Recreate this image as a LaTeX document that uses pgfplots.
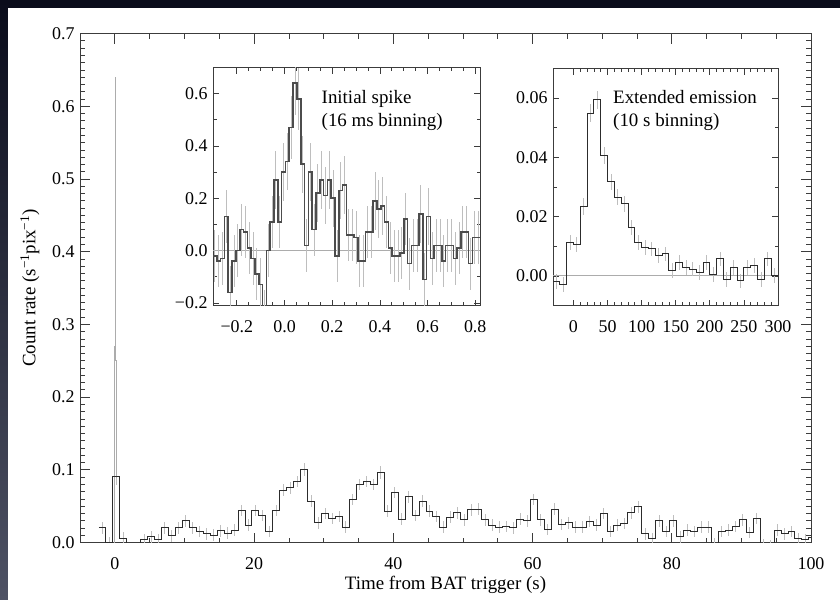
\documentclass[border=0pt]{standalone}
\usepackage{fontspec}
\setmainfont{Liberation Serif}
\usepackage{pgfplots}
\usepackage{pgfplotstable}
\pgfplotsset{compat=1.18}

\definecolor{bgnavy}{HTML}{0A0C1B}
\definecolor{bgside}{HTML}{4E5264}
\definecolor{framec}{HTML}{3C3C3C}
\definecolor{trace}{HTML}{2C2C2C}
\definecolor{errgray}{HTML}{BEBEBE}
\newcommand\ticksize{\fontsize{18}{18}\selectfont}
\newcommand\labsize{\fontsize{19}{19}\selectfont}

% BAT light curve, 1 s bins (left edge, rate, error)
\pgfplotstableread{
x y e
-2.3 0.020 0.008
-1.3 0.000 0.008
-0.3 0.091 0.012
0.7 0.006 0.008
1.7 -0.010 0.008
2.7 -0.010 0.008
3.7 0.004 0.008
4.7 0.008 0.008
5.7 0.004 0.008
6.7 0.020 0.008
7.7 0.009 0.008
8.7 0.020 0.008
9.7 0.030 0.008
10.7 0.020 0.008
11.7 0.015 0.008
12.7 0.012 0.008
13.7 0.010 0.008
14.7 0.016 0.008
15.7 0.013 0.008
16.7 0.017 0.008
17.7 0.044 0.008
18.7 0.024 0.008
19.7 0.044 0.008
20.7 0.037 0.008
21.7 0.015 0.008
22.7 0.044 0.008
23.7 0.072 0.008
24.7 0.075 0.008
25.7 0.084 0.008
26.7 0.101 0.009
27.7 0.057 0.008
28.7 0.027 0.008
29.7 0.040 0.008
30.7 0.033 0.008
31.7 0.036 0.008
32.7 0.021 0.008
33.7 0.059 0.008
34.7 0.080 0.008
35.7 0.084 0.008
36.7 0.080 0.008
37.7 0.096 0.009
38.7 0.043 0.008
39.7 0.069 0.008
40.7 0.032 0.008
41.7 0.063 0.008
42.7 0.037 0.008
43.7 0.057 0.008
44.7 0.043 0.008
45.7 0.036 0.008
46.7 0.021 0.008
47.7 0.035 0.008
48.7 0.041 0.008
49.7 0.031 0.008
50.7 0.045 0.008
51.7 0.046 0.008
52.7 0.031 0.008
53.7 0.024 0.008
54.7 0.021 0.008
55.7 0.022 0.008
56.7 0.020 0.008
57.7 0.032 0.008
58.7 0.030 0.008
59.7 0.059 0.008
60.7 0.031 0.008
61.7 0.018 0.008
62.7 0.046 0.008
63.7 0.025 0.008
64.7 0.027 0.008
65.7 0.021 0.008
66.7 0.021 0.008
67.7 0.029 0.008
68.7 0.024 0.008
69.7 0.040 0.008
70.7 0.015 0.008
71.7 0.024 0.008
72.7 0.026 0.008
73.7 0.041 0.008
74.7 0.049 0.008
75.7 0.012 0.008
76.7 0.005 0.008
77.7 0.030 0.008
78.7 0.015 0.008
79.7 0.030 0.008
80.7 0.008 0.008
81.7 0.017 0.008
82.7 0.015 0.008
83.7 0.021 0.008
84.7 0.021 0.008
85.7 -0.002 0.008
86.7 0.015 0.008
87.7 0.017 0.008
88.7 0.022 0.008
89.7 0.031 0.008
90.7 0.014 0.008
91.7 0.033 0.008
92.7 -0.003 0.008
93.7 -0.004 0.008
94.7 0.017 0.008
95.7 0.012 0.008
96.7 0.015 0.008
97.7 0.005 0.008
98.7 0.004 0.008
99.7 0.007 0.008
100.7 0.007 0.008
}\mainlc

% initial spike, 16 ms bins
\pgfplotstableread{
x y e
-0.300 -0.02 0.10
-0.284 -0.04 0.10
-0.268 -0.03 0.10
-0.252 0.13 0.10
-0.236 -0.16 0.10
-0.220 -0.04 0.10
-0.204 0.00 0.10
-0.188 0.08 0.10
-0.172 0.07 0.10
-0.156 0.01 0.10
-0.140 -0.03 0.10
-0.124 -0.09 0.10
-0.108 -0.13 0.10
-0.092 -0.25 0.10
-0.076 0.00 0.10
-0.060 0.11 0.10
-0.044 0.27 0.11
-0.028 0.11 0.10
-0.012 0.30 0.11
0.004 0.34 0.11
0.020 0.47 0.12
0.036 0.64 0.12
0.052 0.58 0.12
0.068 0.33 0.11
0.084 0.02 0.10
0.100 0.30 0.11
0.116 0.08 0.10
0.132 0.22 0.11
0.148 0.27 0.11
0.164 0.21 0.11
0.180 0.27 0.11
0.196 0.20 0.11
0.212 -0.02 0.10
0.228 0.23 0.11
0.244 0.25 0.11
0.260 0.06 0.10
0.276 0.06 0.10
0.292 0.05 0.10
0.308 -0.04 0.10
0.324 -0.04 0.10
0.340 0.07 0.10
0.356 0.07 0.10
0.372 0.19 0.11
0.388 0.16 0.11
0.404 0.17 0.11
0.420 0.11 0.10
0.436 0.01 0.10
0.452 -0.02 0.10
0.468 -0.02 0.10
0.484 -0.01 0.10
0.500 0.12 0.10
0.516 -0.05 0.10
0.532 0.02 0.10
0.548 0.02 0.10
0.564 0.14 0.11
0.580 -0.11 0.10
0.596 0.13 0.11
0.612 -0.03 0.10
0.628 0.02 0.10
0.644 0.02 0.10
0.660 -0.04 0.10
0.676 0.02 0.10
0.692 0.02 0.10
0.708 -0.03 0.10
0.724 0.01 0.10
0.740 0.07 0.10
0.756 0.07 0.10
0.772 -0.05 0.10
0.788 0.05 0.10
0.804 0.05 0.10
0.820 0.05 0.10
}\spikelc

% extended emission, 10 s bins
\pgfplotstableread{
x y e
-30 -0.0020 0.0025
-20 -0.0030 0.0025
-10 0.0113 0.0025
0 0.0107 0.0025
10 0.0235 0.0028
20 0.0549 0.0030
30 0.0594 0.0030
40 0.0407 0.0028
50 0.0317 0.0027
60 0.0266 0.0027
70 0.0243 0.0026
80 0.0164 0.0026
90 0.0113 0.0025
100 0.0096 0.0025
110 0.0091 0.0025
120 0.0068 0.0025
130 0.0074 0.0025
140 0.0017 0.0025
150 0.0045 0.0025
160 0.0028 0.0025
170 0.0023 0.0025
180 0.0011 0.0025
190 0.0045 0.0025
200 0.0006 0.0025
210 0.0057 0.0025
220 -0.0011 0.0025
230 0.0028 0.0025
240 -0.0017 0.0025
250 0.0028 0.0025
260 0.0034 0.0025
270 -0.0011 0.0025
280 0.0057 0.0025
290 0.0000 0.0025
300 0.0000 0.0025
}\extlc

\pgfplotsset{
  lcbase/.style={
    scale only axis,
    anchor=south west,
    axis line style={framec, line width=0.9bp},
    every tick/.style={framec, line width=0.7bp},
    tick align=inside,
    ticklabel style={font=\ticksize, text=black},
    xticklabel style={yshift=-12bp},
    yticklabel style={xshift=-2bp},
    scaled ticks=false,
    /pgf/number format/assume math mode=true,
    axis background/.style={fill=white},
  },
  errs/.style={draw=none, mark=none, forget plot, error bars/.cd, y dir=both, y explicit,
    error mark=none, error bar style={draw=errgray, line width=0.9bp}},
}

\begin{document}
\begin{tikzpicture}
\useasboundingbox (0,0) rectangle (840bp,-600bp);
\fill[bgnavy] (0,0) rectangle (840bp,-600bp);
\shade[top color=bgnavy, bottom color=bgside] (0,0) rectangle (8bp,-600bp);
\fill[white] (8bp,-8bp) rectangle (840bp,-600bp);

% main light curve
\begin{axis}[lcbase,
  at={(80bp,-542.5bp)},
  width=731bp, height=509bp,
  xmin=-5, xmax=100, ymin=0, ymax=0.7,
  xtick={0,20,40,60,80,100},
  minor x tick num=3,
  ytick={0,0.1,0.2,0.3,0.4,0.5,0.6,0.7},
  yticklabels={0.0,0.1,0.2,0.3,0.4,0.5,0.6,0.7},
  minor y tick num=9,
  major tick length=10bp, minor tick length=5bp,
  xlabel={Time from BAT trigger (s)},
  ylabel={Count rate (s\textsuperscript{−1}pix\textsuperscript{−1})},
  label style={font=\labsize},
  xlabel style={at={(rel axis cs:0.5,0)}, anchor=center, yshift=-42bp},
  ylabel style={at={(rel axis cs:0,0.5)}, anchor=center, yshift=50bp},
]
\addplot[errs] table[x expr=\thisrow{x}+0.5, y=y, y error=e] {\mainlc};
\addplot[const plot mark left, gray!65, line width=0.8bp, mark=none] table {
x y
-0.128 0.00
-0.064 0.05
0.000 0.27
0.064 0.64
0.128 0.25
0.192 0.09
0.256 0.09
};
\addplot[const plot mark left, trace, line width=1bp, mark=none] table[x=x, y=y] {\mainlc};
\end{axis}

% inset: initial spike
\begin{axis}[lcbase,
  at={(213bp,-305.5bp)},
  width=267bp, height=238bp,
  xmin=-0.3, xmax=0.82, ymin=-0.21, ymax=0.70,
  xtick={-0.2,0,0.2,0.4,0.6,0.8},
  xticklabels={−0.2,0.0,0.2,0.4,0.6,0.8},
  ytick={-0.2,0,0.2,0.4,0.6},
  yticklabels={−0.2,0.0,0.2,0.4,0.6},
  minor x tick num=3, minor y tick num=1,
  major tick length=6bp, minor tick length=3.5bp,
]
\addplot[gray!65, line width=1.3bp, mark=none] coordinates {(-0.3,0) (0.82,0)};
\addplot[errs] table[x expr=\thisrow{x}+0.008, y=y, y error=e] {\spikelc};
\addplot[const plot mark left, gray!60!black, line width=1.6bp, mark=none] table[x=x, y=y] {\spikelc};
\end{axis}

% inset: extended emission
\begin{axis}[lcbase,
  at={(553bp,-305.5bp)},
  width=225bp, height=237bp,
  xmin=-30, xmax=300, ymin=-0.01, ymax=0.07,
  xtick={0,50,100,150,200,250,300},
  ytick={0,0.02,0.04,0.06},
  yticklabels={0.00,0.02,0.04,0.06},
  minor x tick num=4, minor y tick num=1,
  major tick length=6bp, minor tick length=3.5bp,
]
\addplot[gray!65, line width=1bp, mark=none] coordinates {(-30,0) (300,0)};
\addplot[errs] table[x expr=\thisrow{x}+5, y=y, y error=e] {\extlc};
\addplot[const plot mark left, trace, line width=1bp, mark=none] table[x=x, y=y] {\extlc};
\end{axis}

\node[anchor=base west, inner sep=0, font=\labsize] at (321.5bp,-103.5bp) {Initial spike};
\node[anchor=base west, inner sep=0, font=\labsize] at (321.5bp,-126bp) {(16 ms binning)};
\node[anchor=base west, inner sep=0, font=\labsize] at (613bp,-103.5bp) {Extended emission};
\node[anchor=base west, inner sep=0, font=\labsize] at (613bp,-126bp) {(10 s binning)};
\end{tikzpicture}
\end{document}
